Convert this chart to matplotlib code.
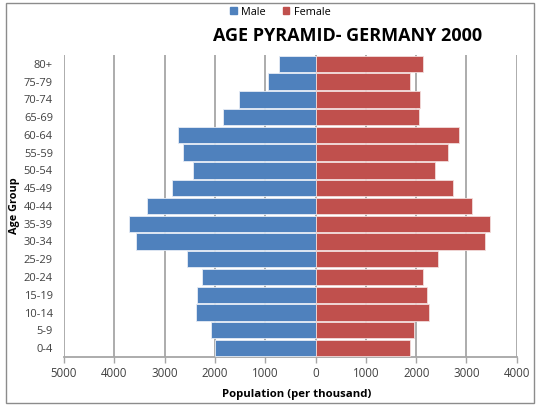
import matplotlib
matplotlib.use("Agg")
import matplotlib.pyplot as plt
import numpy as np
from matplotlib.patches import Patch, Rectangle

plt.rcParams['font.family'] = ['Open Sans', 'DejaVu Sans']

age_groups = ['0-4', '5-9', '10-14', '15-19', '20-24', '25-29', '30-34', '35-39',
              '40-44', '45-49', '50-54', '55-59', '60-64', '65-69', '70-74', '75-79', '80+']
male = [1990, 2083, 2368, 2355, 2256, 2560, 3571, 3717,
        3347, 2850, 2434, 2632, 2724, 1839, 1522, 946, 728]
female = [1871, 1964, 2249, 2216, 2143, 2434, 3360, 3459,
          3109, 2738, 2381, 2625, 2851, 2050, 2077, 1878, 2129]
x_ticks = [-5000, -4000, -3000, -2000, -1000, 0, 1000, 2000, 3000, 4000]
x_tick_labels = ['5000', '4000', '3000', '2000', '1000', '0', '1000', '2000', '3000', '4000']

male_color = '#4F81BD'
female_color = '#C0504D'
grid_color = '#A6A6A6'


def main():
    fig = plt.figure(figsize=(5.4, 4.07), dpi=100)
    ax = fig.add_axes([0.1185, 0.123, 0.8385, 0.742])

    y = np.arange(len(age_groups))
    ax.barh(y, [-v for v in male], height=0.92, color=male_color,
            edgecolor='#E6ECF5', linewidth=0.6, zorder=3)
    ax.barh(y, female, height=0.92, color=female_color,
            edgecolor='#F2DCDB', linewidth=0.6, zorder=3)

    ax.set_xlim(-5000, 4000)
    ax.set_ylim(-0.5, len(age_groups) - 0.5)
    ax.set_xticks(x_ticks)
    ax.set_xticklabels(x_tick_labels, fontsize=8.3, color='#404040')
    ax.set_yticks(y)
    ax.set_yticklabels(age_groups, fontsize=8.0, color='#404040')

    for xv in x_ticks:
        ax.axvline(xv, color=grid_color, linewidth=1.3, zorder=1)

    for s in ['top', 'right', 'left']:
        ax.spines[s].set_visible(False)
    ax.spines['bottom'].set_color(grid_color)
    ax.spines['bottom'].set_linewidth(1.3)
    ax.tick_params(axis='x', length=4, width=1.0, color=grid_color, pad=3)
    ax.tick_params(axis='y', length=0, pad=8)

    ax.set_xlabel('Population (per thousand)', fontsize=8.2, fontweight='bold')
    ax.xaxis.set_label_coords(0.515, -0.105)
    ax.set_ylabel('Age Group', fontsize=7.8, fontweight='bold')
    ax.yaxis.set_label_coords(-0.097, 0.5)

    fig.text(0.644, 0.912, 'AGE PYRAMID- GERMANY 2000', fontsize=13,
             fontweight='bold', ha='center', va='center')

    handles = [Patch(color=male_color, label='Male'), Patch(color=female_color, label='Female')]
    fig.legend(handles=handles, loc='center', bbox_to_anchor=(0.519, 0.97), ncol=2,
               frameon=False, fontsize=7.8, handlelength=0.6, handleheight=0.6,
               handletextpad=0.4, columnspacing=1.6)

    fig.patches.append(Rectangle((0.011, 0.01), 0.978, 0.982, transform=fig.transFigure,
                                 fill=False, edgecolor='#8C8C8C', linewidth=1.0))

    fig.savefig('out.png', dpi=100)


if __name__ == "__main__":
    main()
